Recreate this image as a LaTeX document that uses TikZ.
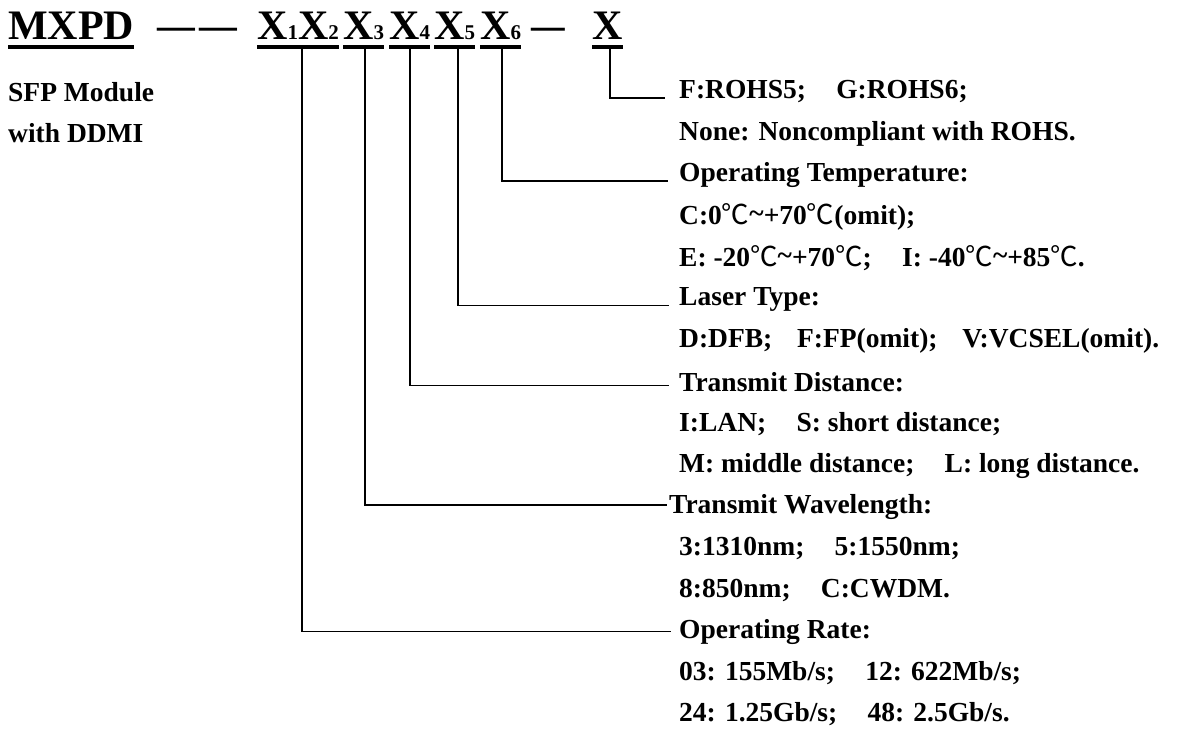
\documentclass[tikz,border=0pt]{standalone}
\usepackage{fontspec}
\setmainfont{Liberation Serif}
\newfontfamily\cjk{Noto Sans CJK SC}
\usetikzlibrary{calc}
\newcommand{\degC}{{\cjk\mdseries ℃}}
\newcommand{\tl}{\raisebox{0.15ex}{\char`~}}
\begin{document}
\begin{tikzpicture}[x=1pt,y=-1pt,
  title/.style={anchor=base west,inner sep=0pt,font=\fontsize{42}{42}\selectfont\bfseries},
  body/.style={anchor=west,inner sep=0pt,font=\fontsize{27.5}{27.5}\selectfont\bfseries},
  uline/.style={line width=4.2pt},
  conn/.style={line width=1.7pt}]
\useasboundingbox (0,0) rectangle (1177,736);
\def\sub#1{{\fontsize{21}{21}\selectfont #1}}
% title
\node[title] (mxpd) at (8,39) {MXPD};
\node[title] (d1) at (157,39) {\scalebox{0.9}[1]{—}\hspace{4pt}\scalebox{0.9}[1]{—}};
\node[title] (x12) at (257,39) {X\sub{1}X\sub{2}};
\node[title] (x3) at (343,39) {X\sub{3}};
\node[title] (x4) at (389,39) {X\sub{4}};
\node[title] (x5) at (434,39) {X\sub{5}};
\node[title] (x6) at (480,39) {X\sub{6}};
\node[title] (d2) at (531,39) {\scalebox{0.8}[1]{—}};
\node[title] (xx) at (592,39) {X};
\foreach \n in {mxpd,x12,x3,x4,x5,x6,xx}
  \draw[uline] ($(\n.base west)+(0,8)$) -- ($(\n.base east)+(0,8)$);
% left text
\node[body] (l1) at (8,92) {SFP Module};
\node[body] (l2) at (8,133.5) {with DDMI};
% right text rows
\def\rx{679}
\node[body] (r0) at (\rx,92) {F:ROHS5;\hspace{1.1em}G:ROHS6;};
\node[body] (r1) at (\rx,133.5) {None: Noncompliant with ROHS.};
\node[body] (r2) at (\rx,175) {Operating Temperature:};
\node[body] (r3) at (\rx,216.5) {C:0\degC\tl+70\degC(omit);};
\node[body] (r4) at (\rx,258) {E: -20\degC\tl+70\degC;\hspace{1.1em}I: -40\degC\tl+85\degC.};
\node[body] (r5) at (\rx,299.5) {Laser Type:};
\node[body] (r6) at (\rx,341) {D:DFB;\hspace{0.9em}F:FP(omit);\hspace{0.9em}V:VCSEL(omit).};
\node[body] (r7) at (\rx,382.5) {Transmit Distance:};
\node[body] (r8) at (\rx,424) {I:LAN;\hspace{1.1em}S: short distance;};
\node[body] (r9) at (\rx,465.5) {M: middle distance;\hspace{1.1em}L: long distance.};
\node[body] (r10) at (669,507) {Transmit Wavelength:};
\node[body] (r11) at (\rx,548.5) {3:1310nm;\hspace{1.1em}5:1550nm;};
\node[body] (r12) at (\rx,590) {8:850nm;\hspace{1.1em}C:CWDM.};
\node[body] (r13) at (\rx,631.5) {Operating Rate:};
\node[body] (r14) at (\rx,673) {03: 155Mb/s;\hspace{1.1em}12: 622Mb/s;};
\node[body] (r15) at (\rx,714.5) {24: 1.25Gb/s;\hspace{1.1em}48: 2.5Gb/s.};
% tick coordinates on underlines
\coordinate (t1) at (302,49);
\coordinate (t3) at (365,49);
\coordinate (t4) at (410,49);
\coordinate (t5) at (458,49);
\coordinate (t6) at (502,49);
\coordinate (tx) at (610,49);
% connectors
\draw[conn] (tx) |- ([shift={(-14pt,-6pt)}]r0.west);
\draw[conn] (t6) |- ([shift={(-11pt,-6pt)}]r2.west);
\draw[conn] (t5) |- ([shift={(-10pt,-6pt)}]r5.west);
\draw[conn] (t4) |- ([shift={(-10pt,-3pt)}]r7.west);
\draw[conn] (t3) |- ([shift={(-2pt,2pt)}]r10.west);
\draw[conn] (t1) |- ([shift={(-8pt,0pt)}]r13.west);
\end{tikzpicture}
\end{document}
